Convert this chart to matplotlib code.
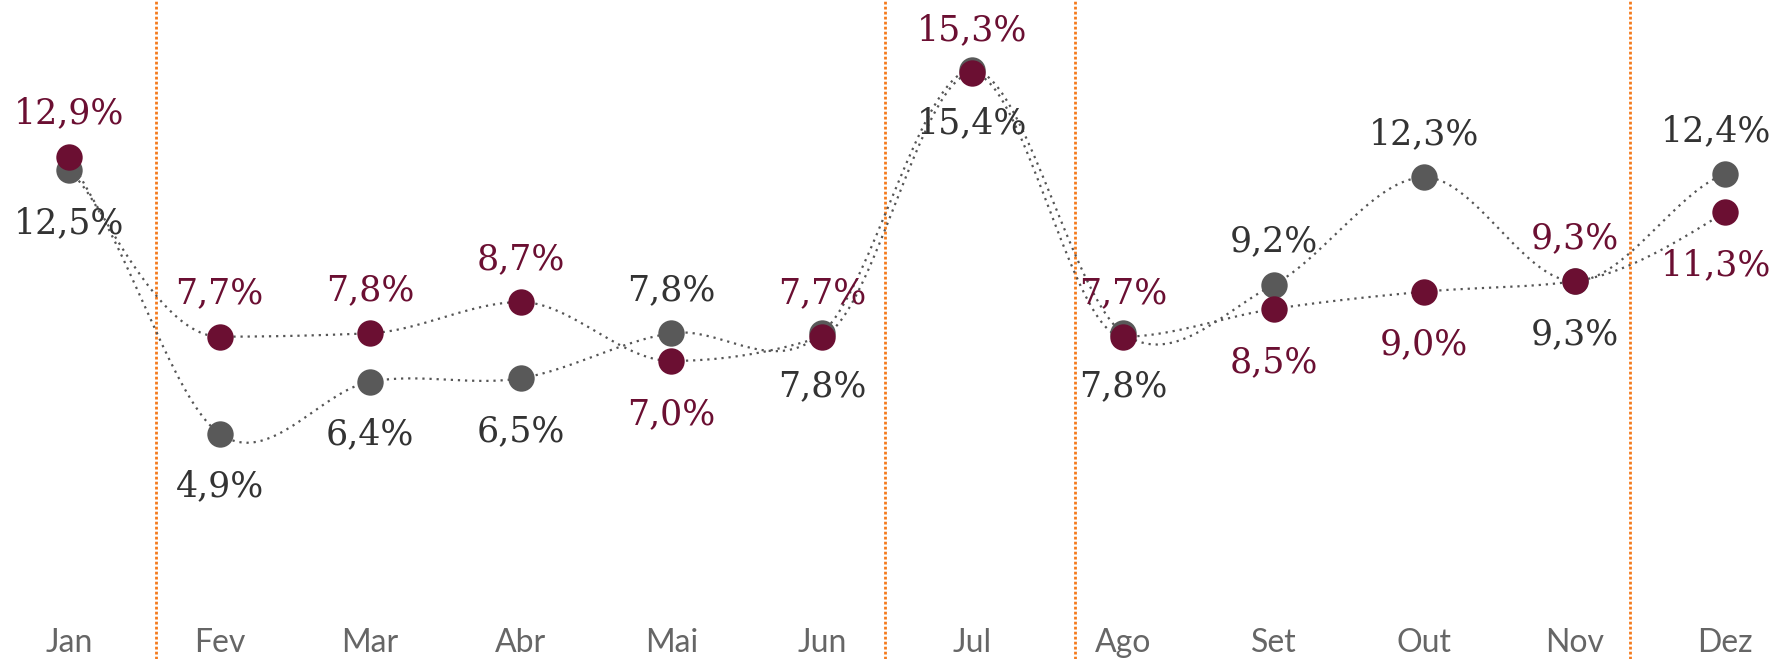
import numpy as np
import matplotlib
matplotlib.use("Agg")
import matplotlib.pyplot as plt

months = ["Jan", "Fev", "Mar", "Abr", "Mai", "Jun", "Jul", "Ago", "Set", "Out", "Nov", "Dez"]
grey_vals = [12.5, 4.9, 6.4, 6.5, 7.8, 7.8, 15.4, 7.8, 9.2, 12.3, 9.3, 12.4]
maroon_vals = [12.9, 7.7, 7.8, 8.7, 7.0, 7.7, 15.3, 7.7, 8.5, 9.0, 9.3, 11.3]
# label placement: +1 above, -1 below
grey_pos = [-1, -1, -1, -1, 1, -1, -1, -1, 1, 1, -1, 1]
maroon_pos = [1, 1, 1, 1, -1, 1, 1, 1, -1, -1, 1, -1]
separators = [0.578, 5.42, 6.68, 10.37]

GREY = "#595959"
GREY_TXT = "#333333"
MAROON = "#6B0F32"
ORANGE = "#F57A1C"
LINE = "#555555"


def hermite(y, m, n=40):
    t = np.linspace(0, 1, n)
    h00 = 2*t**3 - 3*t**2 + 1
    h10 = t**3 - 2*t**2 + t
    h01 = -2*t**3 + 3*t**2
    h11 = t**3 - t**2
    xs, ys = [], []
    for i in range(len(y) - 1):
        xs.append(i + t)
        ys.append(h00*y[i] + h10*m[i] + h01*y[i+1] + h11*m[i+1])
    return np.concatenate(xs), np.concatenate(ys)


def catmull(y):
    y = np.asarray(y, float)
    N = len(y)
    m = np.zeros(N)
    m[0] = (y[1] - y[0]) / 2
    m[-1] = (y[-1] - y[-2]) / 2
    for i in range(1, N - 1):
        m[i] = (y[i + 1] - y[i - 1]) / 2
    return hermite(y, m)


def monotone(y):
    y = np.asarray(y, float)
    N = len(y)
    s = np.diff(y)
    m = np.zeros(N)
    for i in range(1, N - 1):
        s0, s1 = s[i - 1], s[i]
        p = (s0 + s1) / 2
        m[i] = (np.sign(s0) + np.sign(s1)) * min(abs(s0), abs(s1), 0.5 * abs(p))
    m[0] = (3 * s[0] - m[1]) / 2
    m[-1] = (3 * s[-1] - m[-2]) / 2
    return hermite(y, m)


fig = plt.figure(figsize=(17.75, 6.59), dpi=100)
ax = fig.add_axes([0, 0, 1, 1])
ax.set_xlim(-0.458, 11.33)
ax.set_ylim(-1.605, 17.42)
ax.axis("off")

for s in separators:
    ax.axvline(s, color=ORANGE, lw=2.0, ls=(0, (1, 0.8)), zorder=1)

x = np.arange(len(months))
for sx, sy in (catmull(grey_vals), monotone(maroon_vals)):
    ax.plot(sx, sy, color=LINE, lw=1.6, ls=(0, (1, 2.2)), zorder=2)

ax.plot(x, grey_vals, "o", color=GREY, ms=19, mec="none", zorder=3)
ax.plot(x, maroon_vals, "o", color=MAROON, ms=19, mec="none", zorder=4)


def fmt(v):
    return f"{v:.1f}%".replace(".", ",")


last = len(months) - 1
for vals, pos, col in ((grey_vals, grey_pos, GREY_TXT), (maroon_vals, maroon_pos, MAROON)):
    for i, (v, p) in enumerate(zip(vals, pos)):
        dy = 31 if p > 0 else -38
        dx = -7 if i == last else 0
        ax.annotate(fmt(v), (i, v), xytext=(dx, dy), textcoords="offset points",
                    ha="center", va="center", fontsize=25, color=col,
                    family="DejaVu Serif", zorder=5, annotation_clip=False)

for i, m in enumerate(months):
    ax.text(i, -1.15, m, ha="center", va="center", fontsize=23, color="#666666",
            family="Lato")

fig.savefig("out.png", dpi=100)
